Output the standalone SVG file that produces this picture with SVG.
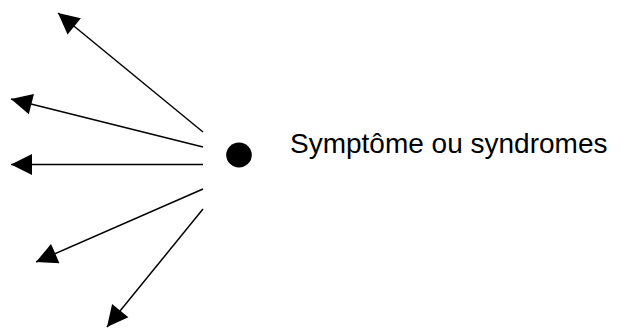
<svg xmlns="http://www.w3.org/2000/svg" width="624" height="329" viewBox="0 0 624 329">
  <defs>
    <marker id="head" markerUnits="userSpaceOnUse" markerWidth="22" markerHeight="22" refX="21" refY="10.5" orient="auto" overflow="visible">
      <path d="M0,0 L21,10.5 L0,21 Z" fill="#000"/>
    </marker>
    <style>
      .ray { stroke: #000; stroke-width: 1.5; fill: none; marker-end: url(#head); }
      .label { font-family: "Liberation Sans", Arial, sans-serif; font-size: 28px; fill: #000; }
    </style>
  </defs>
  <rect width="624" height="329" fill="#fff"/>
  <g id="connectors">
    <line class="ray" x1="203" y1="132" x2="58" y2="13"/>
    <line class="ray" x1="203" y1="147" x2="11" y2="99"/>
    <line class="ray" x1="203" y1="164.5" x2="11" y2="164.5"/>
    <line class="ray" x1="203" y1="189" x2="36" y2="262"/>
    <line class="ray" x1="203" y1="209" x2="107" y2="327"/>
  </g>
  <g id="source">
    <ellipse cx="239" cy="155" rx="12.8" ry="12.4" fill="#000"/>
  </g>
  <g id="caption">
    <text class="label" x="290" y="153">Symptôme ou syndromes</text>
  </g>
</svg>
